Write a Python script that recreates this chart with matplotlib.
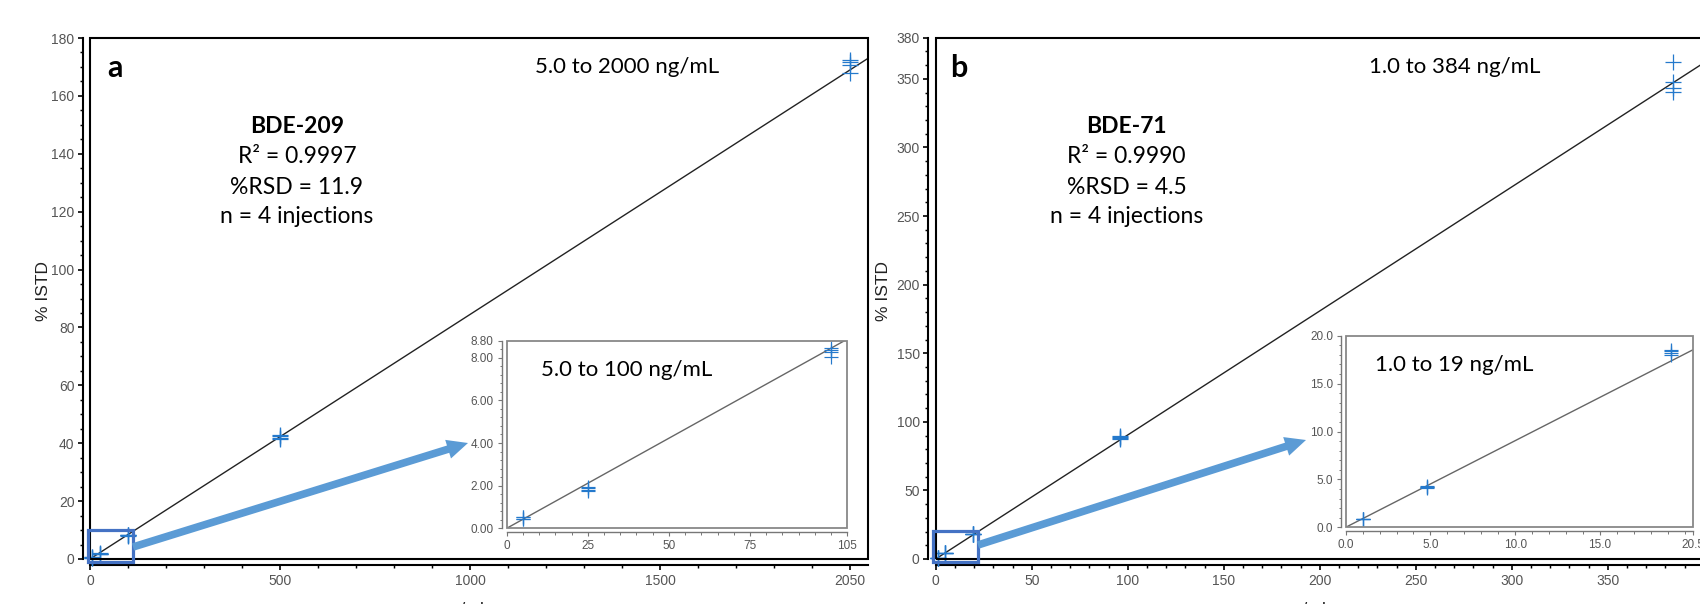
import numpy as np
import matplotlib
matplotlib.use("Agg")
import matplotlib.pyplot as plt
from matplotlib.patches import Rectangle, FancyArrowPatch, ArrowStyle
from matplotlib.ticker import MultipleLocator, FixedLocator, FormatStrFormatter

# ---------------- data ----------------
# Panel a: BDE-209
a_levels = [5, 25, 100, 500, 2000]
a_inj1 = [0.55, 1.95, 8.45, 42.8, 172.5]
a_inj2 = [0.52, 1.90, 8.35, 42.5, 171.8]
a_inj3 = [0.45, 1.80, 8.25, 41.8, 170.8]
a_inj4 = [0.42, 1.75, 8.05, 41.3, 168.0]
a_slope = 0.0845
a_xticks = [0, 500, 1000, 1500, 2000]
a_xticklabels = ["0", "500", "1000", "1500", "2050"]
a_inset_xticks = [0, 25, 50, 75, 105]
a_inset_yticks = [0.0, 2.0, 4.0, 6.0, 8.0, 8.8]

# Panel b: BDE-71
b_levels = [1.0, 4.8, 19.2, 96, 384]
b_inj1 = [0.90, 4.30, 18.5, 89.8, 362.5]
b_inj2 = [0.88, 4.25, 18.4, 89.2, 348.0]
b_inj3 = [0.86, 4.20, 18.2, 88.5, 343.0]
b_inj4 = [0.84, 4.15, 18.0, 87.5, 340.5]
b_slope = 0.904
b_xticks = [0, 50, 100, 150, 200, 250, 300, 350]
b_yticks = [0, 50, 100, 150, 200, 250, 300, 350, 380]
b_inset_xticks = [0.0, 5.0, 10.0, 15.0, 20.5]
b_inset_yticks = [0.0, 5.0, 10.0, 15.0, 20.0]

# ---------------- style ----------------
W, H = 1700, 604
DPI = 100
fig = plt.figure(figsize=(W / DPI, H / DPI), dpi=DPI)
TICKFONT = "Liberation Sans"
TXTFONT = "Lato"
MARK = "#2479cc"
GREY = "#555555"


def fx(x):
    return x / W


def fy(y):
    return 1 - y / H


def box(l, t, r, b):
    return [fx(l), fy(b), (r - l) / W, (b - t) / H]


def style_axes(ax, spine_color, lw, offl, offb, labsize, ticklen, mticklen, framecolor, framelw):
    for s in ["top", "right"]:
        ax.spines[s].set_visible(False)
    ax.spines["left"].set_position(("outward", offl))
    ax.spines["bottom"].set_position(("outward", offb))
    for s in ["left", "bottom"]:
        ax.spines[s].set_color(spine_color)
        ax.spines[s].set_linewidth(lw)
    ax.add_patch(Rectangle((0, 0), 1, 1, transform=ax.transAxes, fill=False,
                           ec=framecolor, lw=framelw, clip_on=False, zorder=5))
    ax.tick_params(which="major", direction="out", length=ticklen, width=lw * 0.8,
                   color=spine_color, labelsize=labsize, labelcolor=GREY, pad=2.5)
    ax.tick_params(which="minor", direction="out", length=mticklen, width=lw * 0.7,
                   color=spine_color)
    for lab in ax.get_xticklabels() + ax.get_yticklabels():
        lab.set_fontfamily(TICKFONT)


def plot_points(ax, levels, injs, ms, mew):
    for inj in injs:
        ax.plot(levels, inj, linestyle="none", marker="+", ms=ms, mew=mew,
                color=MARK, zorder=4, clip_on=False)


# ---------------- panel a ----------------
ax_a = fig.add_axes(box(90, 38, 868, 559))
ax_a.set_xlim(0, 2047)
ax_a.set_ylim(0, 180)
xx = np.array([0, 2047])
ax_a.plot(xx, a_slope * xx, color="#222222", lw=1.0, zorder=3)
plot_points(ax_a, a_levels, [a_inj1, a_inj2, a_inj3, a_inj4], 12, 0.9)
ax_a.xaxis.set_major_locator(FixedLocator(a_xticks))
ax_a.set_xticklabels(a_xticklabels)
ax_a.xaxis.set_minor_locator(FixedLocator(np.arange(0, 2001, 100)))
ax_a.yaxis.set_major_locator(MultipleLocator(20))
ax_a.yaxis.set_minor_locator(MultipleLocator(5))
style_axes(ax_a, "black", 1.5, 4.8, 4.3, 10, 3.8, 2.2, "black", 1.5)

# ---------------- panel b ----------------
ax_b = fig.add_axes(box(935.7, 37.7, 935.7 + 400 * 1.92, 559))
ax_b.set_xlim(0, 400)
ax_b.set_ylim(0, 380)
xx = np.array([0, 400])
ax_b.plot(xx, b_slope * xx, color="#222222", lw=1.0, zorder=3)
plot_points(ax_b, b_levels, [b_inj1, b_inj2, b_inj3, b_inj4], 12, 0.9)
ax_b.xaxis.set_major_locator(FixedLocator(b_xticks))
ax_b.xaxis.set_minor_locator(FixedLocator(np.arange(0, 400, 10)))
ax_b.yaxis.set_major_locator(FixedLocator(b_yticks))
ax_b.yaxis.set_minor_locator(FixedLocator(np.arange(0, 381, 10)))
style_axes(ax_b, "black", 1.5, 5.2, 4.3, 10, 3.8, 2.2, "black", 1.5)

# ---------------- inset a ----------------
in_a = fig.add_axes(box(506.7, 340.7, 847.3, 528.3))
in_a.set_xlim(0, 105)
in_a.set_ylim(0, 8.8)
xx = np.array([0, 105])
in_a.plot(xx, a_slope * xx, color="#666666", lw=1.0, zorder=3)
plot_points(in_a, a_levels[:3], [a_inj1[:3], a_inj2[:3], a_inj3[:3], a_inj4[:3]], 9.5, 0.85)
in_a.xaxis.set_major_locator(FixedLocator(a_inset_xticks))
in_a.xaxis.set_minor_locator(FixedLocator(np.arange(0, 106, 5)))
in_a.yaxis.set_major_locator(FixedLocator(a_inset_yticks))
in_a.yaxis.set_minor_locator(FixedLocator(np.arange(0, 8.81, 0.4)))
in_a.yaxis.set_major_formatter(FormatStrFormatter("%.2f"))
style_axes(in_a, "#777777", 1.0, 3.6, 2.9, 8.5, 3.2, 1.8, "#888888", 1.3)

# ---------------- inset b ----------------
in_b = fig.add_axes(box(1345.7, 335.7, 1693, 527.3))
in_b.set_xlim(0, 20.5)
in_b.set_ylim(0, 20)
xx = np.array([0, 20.5])
in_b.plot(xx, b_slope * xx, color="#666666", lw=1.0, zorder=3)
plot_points(in_b, b_levels[:3], [b_inj1[:3], b_inj2[:3], b_inj3[:3], b_inj4[:3]], 9.5, 0.85)
in_b.xaxis.set_major_locator(FixedLocator(b_inset_xticks))
in_b.xaxis.set_minor_locator(FixedLocator(np.arange(0, 20.6, 1.0)))
in_b.yaxis.set_major_locator(FixedLocator(b_inset_yticks))
in_b.yaxis.set_minor_locator(MultipleLocator(1.0))
in_b.xaxis.set_major_formatter(FormatStrFormatter("%.1f"))
in_b.yaxis.set_major_formatter(FormatStrFormatter("%.1f"))
style_axes(in_b, "#777777", 1.0, 3.4, 2.9, 8.5, 3.2, 1.8, "#888888", 1.3)

# ---------------- zoom boxes and arrows ----------------
BOXC = "#4472C4"
ARROWC = "#5B9BD5"
ax_a.add_patch(Rectangle((-5, -1), 118, 11, fill=False, ec=BOXC, lw=2.3, clip_on=False, zorder=6))
ax_b.add_patch(Rectangle((-1.5, -2), 23.5, 22.5, fill=False, ec=BOXC, lw=2.3, clip_on=False, zorder=6))

astyle = ArrowStyle.Simple(head_length=15, head_width=14, tail_width=5.5)
for tail, tip in [((133, 547), (468, 443)), ((978, 545), (1306, 440))]:
    fig.add_artist(FancyArrowPatch((fx(tail[0]), fy(tail[1])), (fx(tip[0]), fy(tip[1])),
                                   transform=fig.transFigure, arrowstyle=astyle,
                                   mutation_scale=1, shrinkA=0, shrinkB=0,
                                   color=ARROWC, lw=0, zorder=7))

# ---------------- texts ----------------
def t(x, y, s, size, weight="normal", ha="center", family=TXTFONT, color="black", **kw):
    fig.text(fx(x), fy(y), s, fontsize=size, fontweight=weight, ha=ha, va="baseline",
             family=family, color=color, **kw)

t(107, 77, "a", 22, "bold", ha="left")
t(950, 77, "b", 22, "bold", ha="left")

for cx, lines in [(297, ["BDE-209", "R\u00b2 = 0.9997", "%RSD = 11.9", "n = 4 injections"]),
                  (1126.7, ["BDE-71", "R\u00b2 = 0.9990", "%RSD = 4.5", "n = 4 injections"])]:
    for i, (s, by) in enumerate(zip(lines, [132.7, 163, 194, 223])):
        t(cx, by, s, 16.5, "bold" if i == 0 else "normal")

t(627, 72.7, "5.0 to 2000 ng/mL", 16)
t(1455, 72.7, "1.0 to 384 ng/mL", 16)
t(626.7, 376, "5.0 to 100 ng/mL", 16)
t(1454.5, 370.7, "1.0 to 19 ng/mL", 16)

for x in [43, 884]:
    fig.text(fx(x), fy(291), "% ISTD", rotation=90, ha="center", va="center",
             fontsize=12.5, family=TICKFONT, color="#222222")
for x in [465.5, 1307.5]:
    t(x, 614, "ng/mL", 12.5, family=TICKFONT, color="#222222")

fig.savefig("out.png", dpi=DPI)
